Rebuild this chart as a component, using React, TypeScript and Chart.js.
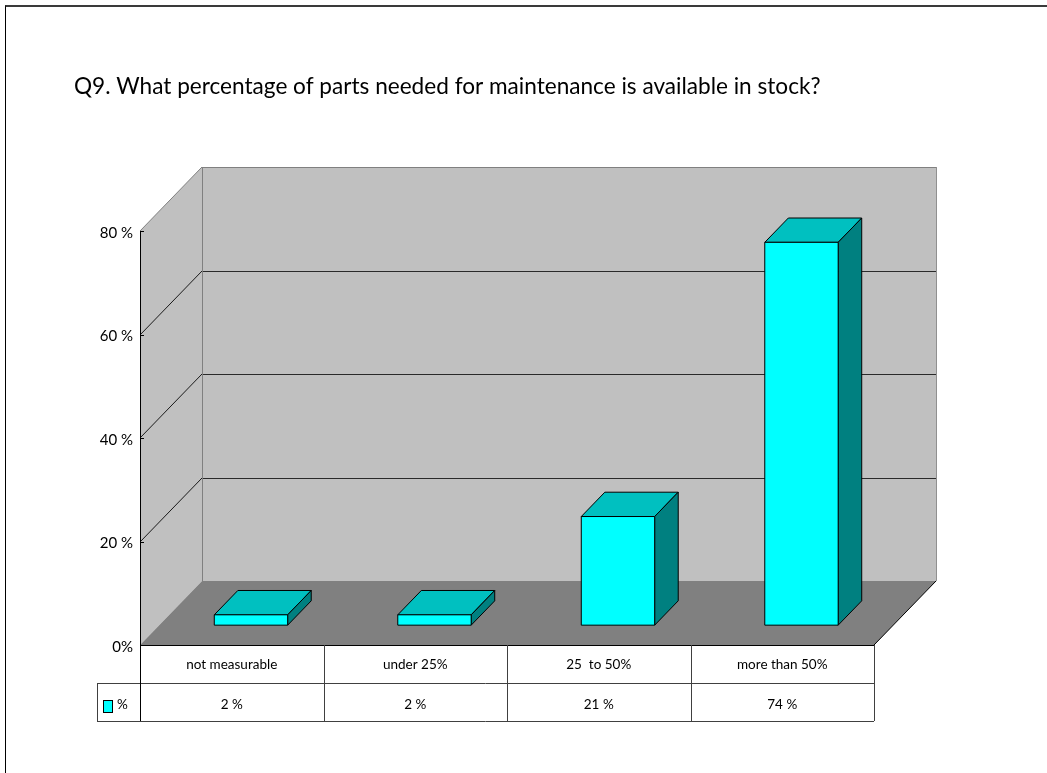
import { useEffect, useRef } from 'react';
import { Chart, registerables } from 'chart.js';

Chart.register(...registerables);

// ---- data ----
const titleText = 'Q9. What percentage of parts needed for maintenance is available in stock?';
const categories = ['not measurable', 'under 25%', '25  to 50%', 'more than 50%'];
const seriesLabel = '%';
const seriesValues = [2, 2, 21, 74];
const yTickValues = [0, 20, 40, 60, 80];
const yMax = 80;

// ---- 3D styling ----
const DX = 62;
const DY = -64;
const BAR_FRONT = 0.31;
const BAR_DEPTH = 0.38;
const FONT = 'Lato';

const c = (v: number) => Math.round(v) + 0.5;

function poly(ctx: CanvasRenderingContext2D, pts: number[][]) {
  ctx.beginPath();
  ctx.moveTo(pts[0][0], pts[0][1]);
  for (let i = 1; i < pts.length; i++) ctx.lineTo(pts[i][0], pts[i][1]);
  ctx.closePath();
}

function line(ctx: CanvasRenderingContext2D, x1: number, y1: number, x2: number, y2: number, color: string) {
  ctx.strokeStyle = color;
  ctx.lineWidth = 1;
  ctx.beginPath();
  ctx.moveTo(x1, y1);
  ctx.lineTo(x2, y2);
  ctx.stroke();
}

const threeD = {
  id: 'threeD',
  beforeDraw(chart: any) {
    const { ctx, chartArea: a, scales } = chart;
    const y = scales.y;
    const L = Math.round(a.left), R = Math.round(a.right), T = Math.round(a.top), B = Math.round(a.bottom);
    ctx.save();
    // side wall
    ctx.fillStyle = '#c0c0c0';
    poly(ctx, [[L, B], [L, T], [L + DX, T + DY], [L + DX, B + DY]]);
    ctx.fill();
    // back wall
    ctx.fillRect(L + DX, T + DY, R - L, B - T);
    // floor
    ctx.fillStyle = '#808080';
    poly(ctx, [[L, B], [R, B], [R + DX, B + DY], [L + DX, B + DY]]);
    ctx.fill();
    // gridlines
    for (const v of yTickValues) {
      if (v <= 0 || v >= yMax) continue;
      const py = Math.round(y.getPixelForValue(v));
      line(ctx, L, py, L + DX, py + DY, '#1a1a1a');
      line(ctx, L + DX, c(py + DY), R + DX, c(py + DY), '#2a2a2a');
    }
    // wall outlines
    line(ctx, L, T, L + DX, T + DY, '#808080');
    line(ctx, L + DX, c(T + DY), R + DX, c(T + DY), '#808080');
    line(ctx, c(L + DX), T + DY, c(L + DX), B + DY, '#808080');
    line(ctx, c(R + DX), T + DY, c(R + DX), B + DY, '#909090');
    // floor edges
    line(ctx, L, c(B), R, c(B), '#000');
    line(ctx, R, B, R + DX, B + DY, '#000');
    // y axis line and ticks
    line(ctx, c(L), T, c(L), B, '#000');
    for (const v of yTickValues) {
      const py = c(y.getPixelForValue(v));
      line(ctx, L, py, L + 4, py, '#000');
    }
    ctx.restore();
  },
  afterDatasetsDraw(chart: any) {
    const { ctx } = chart;
    const meta = chart.getDatasetMeta(0);
    const fx = DX * BAR_FRONT, fy = DY * BAR_FRONT;
    const dx = DX * BAR_DEPTH, dy = DY * BAR_DEPTH;
    ctx.save();
    ctx.lineWidth = 1;
    ctx.strokeStyle = '#000';
    ctx.lineJoin = 'round';
    meta.data.forEach((el: any) => {
      const p = el.getProps(['x', 'y', 'base', 'width'], true);
      const x0 = p.x - p.width / 2 + fx;
      const x1 = p.x + p.width / 2 + fx;
      const yt = p.y + fy;
      const yb = p.base + fy;
      // top face
      ctx.fillStyle = '#00c0c0';
      poly(ctx, [[x0, yt], [x1, yt], [x1 + dx, yt + dy], [x0 + dx, yt + dy]]);
      ctx.fill();
      ctx.stroke();
      // side face
      ctx.fillStyle = '#008080';
      poly(ctx, [[x1, yt], [x1 + dx, yt + dy], [x1 + dx, yb + dy], [x1, yb]]);
      ctx.fill();
      ctx.stroke();
      // front face
      ctx.fillStyle = '#00ffff';
      poly(ctx, [[x0, yt], [x1, yt], [x1, yb], [x0, yb]]);
      ctx.fill();
      ctx.stroke();
    });
    ctx.restore();
  },
  afterDraw(chart: any) {
    const { ctx, chartArea: a, scales } = chart;
    const x = scales.x;
    const labels: string[] = chart.data.labels;
    const ds = chart.data.datasets[0];
    const n = labels.length;
    const catW = x.width / n;
    const edges: number[] = [];
    for (let i = 0; i < n; i++) edges.push(x.getPixelForValue(i) - catW / 2);
    edges.push(x.getPixelForValue(n - 1) + catW / 2);
    const r0 = Math.round(a.bottom);
    const r1 = r0 + 38;
    const r2 = r1 + 38;
    const legL = 97;
    ctx.save();
    const col = '#404040';
    // horizontal lines
    line(ctx, legL, c(r1), edges[n], c(r1), col);
    line(ctx, legL, c(r2), edges[n], c(r2), col);
    // vertical lines
    line(ctx, c(legL), r1, c(legL), r2, col);
    line(ctx, c(edges[0]), r0, c(edges[0]), r2, '#000');
    for (let i = 1; i <= n; i++) line(ctx, c(edges[i]), r0, c(edges[i]), r2, col);
    // texts
    ctx.fillStyle = '#000';
    ctx.font = `13.5px ${FONT}`;
    ctx.textAlign = 'center';
    ctx.textBaseline = 'middle';
    for (let i = 0; i < n; i++) {
      const cx = (edges[i] + edges[i + 1]) / 2;
      ctx.fillText(labels[i], cx, (r0 + r1) / 2 + 1);
      ctx.fillText(`${ds.data[i]} %`, cx, (r1 + r2) / 2 + 3);
    }
    // legend key
    ctx.fillStyle = '#00ffff';
    ctx.fillRect(103, 700, 9, 12);
    ctx.strokeStyle = '#000';
    ctx.strokeRect(103.5, 700.5, 9, 12);
    ctx.fillStyle = '#000';
    ctx.textAlign = 'left';
    ctx.fillText(ds.label, 117, (r1 + r2) / 2 + 3);
    ctx.restore();
  },
};

export default function App() {
  const ref = useRef<HTMLCanvasElement>(null);
  useEffect(() => {
    const chart = new Chart(ref.current as HTMLCanvasElement, {
      type: 'bar',
      data: {
        labels: categories,
        datasets: [
          {
            label: seriesLabel,
            data: seriesValues,
            backgroundColor: 'rgba(0,0,0,0)',
            borderWidth: 0,
            categoryPercentage: 1,
            barPercentage: 0.4,
          },
        ],
      },
      options: {
        responsive: false,
        animation: false,
        devicePixelRatio: 1,
        layout: { padding: { left: 74, right: 173, top: 0, bottom: 128 } },
        plugins: {
          legend: { display: false },
          tooltip: { enabled: false },
          title: {
            display: true,
            text: titleText,
            align: 'start',
            color: '#000',
            font: { family: FONT, size: 22.6, weight: 'normal', lineHeight: 1.2 },
            padding: { top: 73, bottom: 131 },
          },
        },
        scales: {
          x: { display: false },
          y: {
            min: 0,
            max: yMax,
            afterFit: (s: any) => {
              s.width = 66;
            },
            afterBuildTicks: (s: any) => {
              s.ticks = yTickValues.map((v) => ({ value: v }));
            },
            ticks: {
              padding: 7,
              labelOffset: 2,
              color: '#000',
              font: { family: FONT, size: 15 },
              callback: (v: any) => (Number(v) === 0 ? '0%' : `${v} %`),
            },
            grid: { display: false, drawTicks: false },
            border: { display: false },
          },
        },
      } as any,
      plugins: [threeD],
    });
    return () => chart.destroy();
  }, []);
  return (
    <div style={{ position: 'absolute', left: 0, top: 0, width: 1047, height: 773, background: '#fff', overflow: 'hidden' }}>
      <div
        style={{
          position: 'absolute',
          left: 5,
          top: 5,
          right: -5,
          bottom: -5,
          borderTop: '2px solid #3a3a3a',
          borderLeft: '1px solid #000',
        }}
      />
      <canvas ref={ref} width={1047} height={773} style={{ position: 'absolute', left: 0, top: 0 }} />
    </div>
  );
}
